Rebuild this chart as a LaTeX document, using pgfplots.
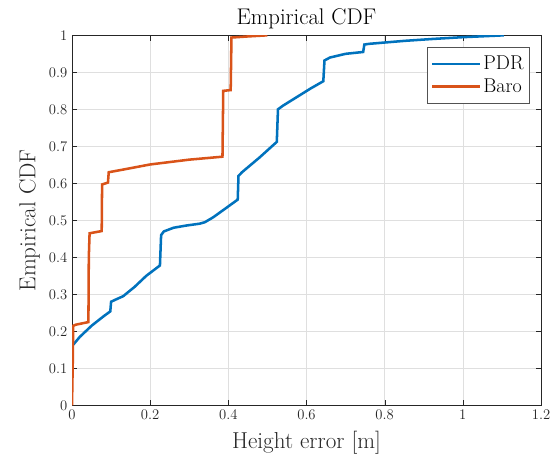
\documentclass[border=0pt]{standalone}
\usepackage{pgfplots}
\pgfplotsset{compat=1.18}
\definecolor{mblue}{rgb}{0,0.447,0.741}
\definecolor{morange}{rgb}{0.85,0.325,0.098}
\definecolor{axgray}{rgb}{0.15,0.15,0.15}
\pgfplotsset{mylegline/.style={legend image code/.code={\draw[##1, line width=1.6pt] (0cm,0cm) -- (1.25cm,0cm);}}}
\begin{document}
\begin{tikzpicture}
\begin{axis}[
  name=ax,
  scale only axis,
  width=351.75pt, height=277.5pt,
  xmin=0, xmax=1.2, ymin=0, ymax=1,
  xtick={0,0.2,...,1.2}, ytick={0,0.1,...,1},
  xticklabels={0,0.2,0.4,0.6,0.8,1,1.2},
  yticklabels={0,0.1,0.2,0.3,0.4,0.5,0.6,0.7,0.8,0.9,1},
  tick align=inside, tick pos=both,
  major tick length=4pt,
  grid=major, grid style={gray!25, line width=0.4pt},
  axis line style={axgray, line width=0.5pt},
  tick style={axgray},
  ticklabel style={font=\fontsize{11}{13}\selectfont, text=axgray},
  title={Empirical CDF},
  title style={font=\fontsize{17}{19}\selectfont, text=black, yshift=-4.5pt},
  xlabel={Height error [m]},
  ylabel={Empirical CDF},
  label style={font=\fontsize{17.3}{19}\selectfont, text=axgray},
  xlabel style={yshift=-1pt},
  legend style={at={(0.9765,0.9676)}, anchor=north east, font=\fontsize{15}{17}\selectfont, draw=axgray!80, line width=0.5pt, inner xsep=2.5pt, inner ysep=4.5pt, row sep=1pt},
  legend cell align=left,
]
\addplot[mblue, line width=1.9pt, mylegline] coordinates {
(0,0.16) (0.02,0.185) (0.05,0.215) (0.08,0.24) (0.098,0.254) (0.1,0.28) (0.11,0.285) (0.131,0.295)
(0.16,0.32) (0.19,0.35) (0.225,0.378) (0.228,0.46) (0.235,0.47) (0.26,0.48) (0.293,0.486) (0.327,0.491)
(0.34,0.495) (0.361,0.508) (0.39,0.53) (0.424,0.556) (0.426,0.62) (0.435,0.63) (0.48,0.67) (0.524,0.712)
(0.527,0.8) (0.54,0.81) (0.61,0.856) (0.643,0.876) (0.646,0.932) (0.66,0.94) (0.7,0.95) (0.745,0.955)
(0.748,0.975) (0.76,0.977) (0.85,0.985) (0.92,0.99) (1.0,0.995) (1.105,1.0)
};
\addlegendentry{PDR}
\addplot[morange, line width=1.9pt, mylegline] coordinates {
(0,0) (0.002,0.12) (0.003,0.215) (0.01,0.218) (0.042,0.225) (0.043,0.4) (0.045,0.465) (0.076,0.471)
(0.077,0.597) (0.092,0.602) (0.094,0.63) (0.13,0.637) (0.2,0.651) (0.3,0.664) (0.385,0.672)
(0.387,0.85) (0.406,0.852) (0.408,0.994) (0.45,0.997) (0.5,1.0)
};
\addlegendentry{Baro}
\end{axis}
\pgfresetboundingbox
\path (ax.south west) ++(-54pt,-38pt) coordinate (bbA);
\path (ax.north east) ++(8.25pt,26.5pt) coordinate (bbB);
\useasboundingbox (bbA) rectangle (bbB);
\end{tikzpicture}
\end{document}
